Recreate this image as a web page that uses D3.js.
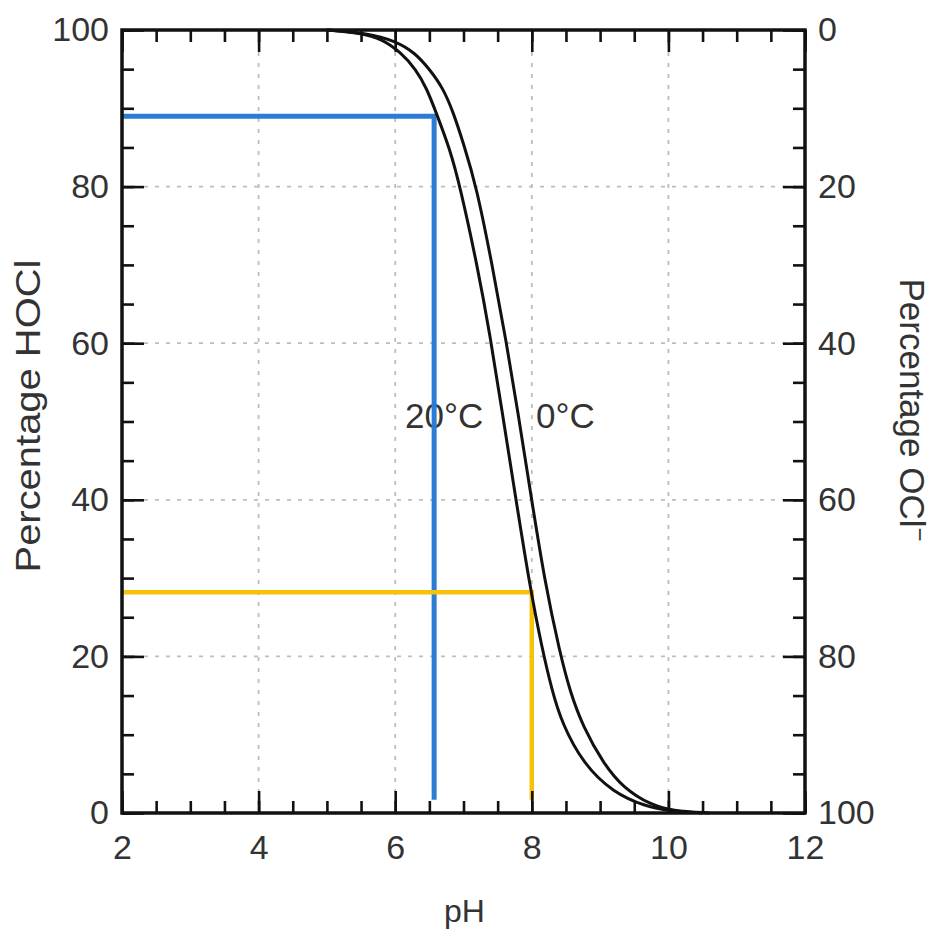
<!DOCTYPE html>
<html>
<head>
<meta charset="utf-8">
<script src="https://cdn.jsdelivr.net/npm/d3@7"></script>
<style>
  body { margin: 0; background: #fff; }
  svg { display: block; font-family: "Liberation Sans", Arial, Helvetica, sans-serif; }
  .grid line { stroke: #bdbdbd; stroke-width: 1.8; stroke-dasharray: 4,7; }
  .ax text { fill: #333; font-size: 34px; }
  .ax line { stroke: #111; stroke-width: 2.6; }
</style>
</head>
<body>
<div id="canvas"></div>
<script>
// pH readings of the two curves
var ph20   = [5.0, 5.5, 5.8, 6.09, 6.3, 6.46, 6.61, 6.8, 6.95, 7.2, 7.39, 7.57, 7.76, 7.97, 8.15, 8.3, 8.44, 8.75, 9.19, 9.68, 10.0, 10.5];
var hocl20 = [100, 99.6, 98.9, 97.1, 95, 92.6, 89.2, 84.8, 80, 70, 61, 51, 40.5, 29, 21, 15.5, 11.5, 6.3, 2.6, 0.8, 0.3, 0];
var ph0    = [5.0, 5.6, 6.0, 6.29, 6.5, 6.7, 6.85, 7.0, 7.19, 7.42, 7.62, 7.8, 7.98, 8.19, 8.41, 8.56, 8.75, 9.05, 9.34, 9.75, 10.05, 10.6];
var hocl0  = [100, 99.6, 98.6, 97.1, 95, 92.6, 89.5, 85.5, 80, 70, 60.5, 51, 41, 29.5, 20.5, 15.5, 11, 6.3, 3.2, 1.0, 0.3, 0];

// guide lines: [pH, percent HOCl] corners
var guidePH   = [6.57, 8.0];
var guidePct  = [89, 28.2];
var guideCol  = ['#2b7dd3', '#f6c20a'];

var xTicks     = [2, 4, 6, 8, 10, 12];
var xMinor     = d3.range(2, 12.01, 0.5);
var yTicks     = [0, 20, 40, 60, 80, 100];
var yMinor     = d3.range(0, 100.1, 5);
var gridX      = [4, 6, 8, 10];
var gridY      = [20, 40, 60, 80];

var W = 934, H = 936;
var m = {t:30, r:129, b:123, l:122};

var svg = d3.select('#canvas').append('svg')
    .attr('width', W).attr('height', H);

var x = d3.scaleLinear().domain([2, 12]).range([m.l, W - m.r]);
var y = d3.scaleLinear().domain([0, 100]).range([H - m.b, m.t]);
var y2 = d3.scaleLinear().domain([100, 0]).range([H - m.b, m.t]);

// grid
var grid = svg.append('g').attr('class', 'grid');
grid.selectAll('.gx').data(gridX).enter().append('line')
    .attr('x1', d => x(d)).attr('x2', d => x(d))
    .attr('y1', y(100)).attr('y2', y(0));
grid.selectAll('.gy').data(gridY).enter().append('line')
    .attr('y1', d => y(d)).attr('y2', d => y(d))
    .attr('x1', x(2)).attr('x2', x(12));

// temperature labels
svg.append('text').attr('x', 405).attr('y', 428)
    .style('font-size', '35px').style('fill', '#333').text('20°C');
svg.append('text').attr('x', 536).attr('y', 428)
    .style('font-size', '35px').style('fill', '#333').text('0°C');

// blue / yellow guide lines
guidePH.forEach(function(p, i){
    var pts = [[2, guidePct[i]], [p, guidePct[i]], [p, 1.7]];
    svg.append('path')
        .attr('d', d3.line().x(d => x(d[0])).y(d => y(d[1]))(pts))
        .attr('fill', 'none')
        .attr('stroke', guideCol[i])
        .attr('stroke-width', i === 0 ? 5 : 4.5);
});

// curves
var line = d3.line().x(d => x(d[0])).y(d => y(d[1])).curve(d3.curveBasis);
[[ph20, hocl20], [ph0, hocl0]].forEach(function(s){
    svg.append('path')
        .attr('d', line(d3.zip(s[0], s[1])))
        .attr('fill', 'none')
        .attr('stroke', '#111')
        .attr('stroke-width', 3);
});

// axes: minor ticks then major ticks
function ax(gen, tr, vals, size, fmt, pad){
    var g = svg.append('g').attr('class', 'ax').attr('transform', tr)
        .call(gen.tickValues(vals).tickSize(size).tickPadding(pad).tickFormat(fmt));
    g.select('.domain').remove();
    return g;
}
var none = () => '';
ax(d3.axisBottom(x), 'translate(0,' + y(0) + ')', xMinor, -12, none, 0);
ax(d3.axisBottom(x), 'translate(0,' + y(0) + ')', xTicks, -22, d3.format('d'), 22);
ax(d3.axisTop(x), 'translate(0,' + y(100) + ')', xMinor, -12, none, 0);
ax(d3.axisTop(x), 'translate(0,' + y(100) + ')', xTicks, -22, none, 0);
ax(d3.axisLeft(y), 'translate(' + x(2) + ',0)', yMinor, -12, none, 0);
ax(d3.axisLeft(y), 'translate(' + x(2) + ',0)', yTicks, -22, d3.format('d'), 13);
ax(d3.axisRight(y2), 'translate(' + x(12) + ',0)', yMinor, -12, none, 0);
ax(d3.axisRight(y2), 'translate(' + x(12) + ',0)', yTicks, -22, d3.format('d'), 13);

// frame
svg.append('rect')
    .attr('x', x(2)).attr('y', y(100))
    .attr('width', x(12) - x(2)).attr('height', y(0) - y(100))
    .attr('fill', 'none').attr('stroke', '#111').attr('stroke-width', 3.5);

// axis titles
svg.append('text').attr('x', (x(2) + x(12)) / 2 + 1).attr('y', 922)
    .attr('text-anchor', 'middle').style('font-size', '32px').style('fill', '#333').text('pH');

svg.append('text')
    .attr('transform', 'translate(40,' + 416 + ') rotate(-90)')
    .attr('text-anchor', 'middle')
    .attr('textLength', 313).attr('lengthAdjust', 'spacingAndGlyphs')
    .style('font-size', '35px').style('fill', '#333')
    .text('Percentage HOCl');

var rt = svg.append('text')
    .attr('transform', 'translate(900,' + 410 + ') rotate(90)')
    .attr('text-anchor', 'middle')
    .style('font-size', '35px').style('fill', '#333');
rt.append('tspan').text('Percentage OCl');
rt.append('tspan').attr('dy', -12).style('font-size', '24px').text('−');
</script>
</body>
</html>
